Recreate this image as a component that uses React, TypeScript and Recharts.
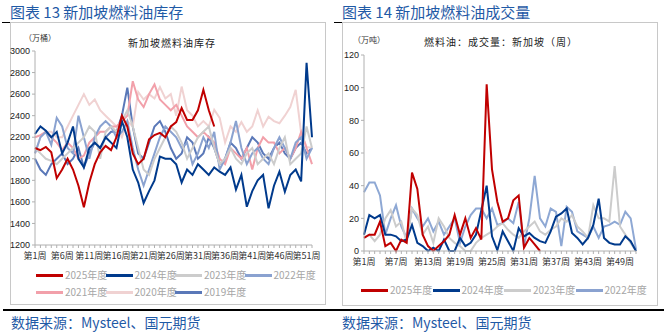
import React from "react";
import { LineChart, Line, XAxis, YAxis } from "recharts";

const weeks: string[] = Array.from({ length: 52 }, (_, i) => `第${i + 1}周`);

const inv2025 = [2100,2080,2110,2060,1820,1900,2000,1900,1750,1550,1780,1950,2060,2120,2080,2200,2400,2300,2050,1950,2000,2180,2220,2240,2200,2300,2340,2470,2360,2360,2450,2640,2450,2300];
const inv2024 = [2230,2300,2260,2200,2250,2050,2150,2300,2000,1920,2100,2150,2100,2200,2150,2100,2350,2200,1900,1780,1590,1700,1800,2020,2000,2000,1950,1780,1900,1850,1950,1900,1850,1920,1880,1850,1920,1715,1850,1555,1700,1800,1850,1540,1750,1880,1694,1850,1900,1790,2890,2200];
const inv2023 = [2100,2050,2000,1980,1950,2000,2050,2100,2150,2200,2300,2250,2000,2250,2300,2250,2350,2450,2300,2100,1900,1850,2000,2100,2200,2300,2250,2150,2000,2100,2200,2250,2300,2100,1950,2000,2100,2000,1950,2050,2100,1950,2000,2050,1950,2100,2200,1950,2000,2050,2300,2100];
const inv2022 = [2050,2200,2250,2130,2380,2300,2100,2050,2400,2200,2000,2200,2300,2350,2300,2200,2250,2350,2100,1900,1750,1900,2050,2200,2300,2250,2200,2100,2150,1950,2050,2200,2100,2250,1900,2000,2150,2350,2100,1950,2050,2100,2000,1950,2100,2200,2100,2000,2150,2200,2000,2100];
const inv2021 = [2200,2220,2250,2200,2150,2080,2150,2100,2000,2030,2150,2200,2250,2250,2300,2300,2350,2400,2720,2550,2480,2600,2690,2550,2500,2450,2500,2400,2300,2250,2200,2250,2200,2150,2000,1950,2100,2050,2000,2100,1900,2100,2200,2150,2150,2050,2100,2000,2100,2250,2100,1950];
const inv2020 = [2050,2200,2250,2250,2200,2200,2300,2400,2500,2600,2500,2550,2450,2400,2350,2300,2200,2350,2300,2620,2550,2600,2560,2665,2560,2600,2400,2670,2450,2400,2300,2350,2300,2455,2380,2150,2300,2250,2340,2250,2300,2450,2300,2390,2350,2330,2400,2480,2640,2240,2110,2100];
const inv2019 = [2000,1900,1850,1950,2000,2050,1950,2000,2100,1920,2050,2150,2100,2200,2250,2250,2400,2660,2300,2050,2000,2150,2300,2350,2250,2100,2000,2050,2200,2150,2000,2050,2200,2100,1950,2000,2150,2100,2000,2100,2200,2150,2050,2000,2100,2150,2050,2000,2100,2150,2050,2100];

const vol2025 = [8,10,10,18,3,5,0,7,5,48,38,10,3,0,3,6,10,22,10,20,8,14,7,102,50,30,18,20,31,34,2,8,4,0];
const vol2024 = [10,22,20,22,10,10,9,6,7,16,5,3,0,2,0,7,0,0,8,3,5,10,25,40,9,0.5,12,6,0,14,9,11,8,6,5,12,21,23,26,11,8,4,8,16,32,8,5,4,4,9,6,0];
const vol2023 = [8,10,6,10,20,25,15,18,5,26,22,10,15,5,20,15,8,5,3,0,0,5,8,10,12,15,17,13,10,8,12,15,18,12,10,13,15,20,18,22,15,12,8,28,20,20,18,52,15,10,5,0];
const vol2022 = [36,42,42,34,10,20,28,15,8,26,20,15,20,12,18,10,15,20,5,15,22,26,26,20,26,16,17,20,17,30,3,20,46,20,15,26,24,3,27,24,12,10,8,15,8,15,16,18,16,24,20,1];

const invSeries = [
  { name: "2019年度", data: inv2019, color: "#5a78b8" },
  { name: "2020年度", data: inv2020, color: "#f0d2d2" },
  { name: "2021年度", data: inv2021, color: "#f2a0aa" },
  { name: "2022年度", data: inv2022, color: "#8aa2d0" },
  { name: "2023年度", data: inv2023, color: "#cccccc" },
  { name: "2024年度", data: inv2024, color: "#003a8c" },
  { name: "2025年度", data: inv2025, color: "#c00000" },
];
const volSeries = [
  { name: "2022年度", data: vol2022, color: "#8ea8d4" },
  { name: "2023年度", data: vol2023, color: "#cccccc" },
  { name: "2024年度", data: vol2024, color: "#003a8c" },
  { name: "2025年度", data: vol2025, color: "#c00000" },
];

const invLegendRows = [
  ["2025年度", "2024年度", "2023年度", "2022年度"],
  ["2021年度", "2020年度", "2019年度"],
];
const volLegendRow = ["2025年度", "2024年度", "2023年度", "2022年度"];

const invTicks = [1200, 1400, 1600, 1800, 2000, 2200, 2400, 2600, 2800, 3000];
const volTicks = [0, 20, 40, 60, 80, 100, 120];

function buildRows(series: { name: string; data: number[] }[]) {
  return weeks.map((w, i) => {
    const row: Record<string, string | number | null> = { week: w };
    series.forEach((s) => {
      row[s.name] = i < s.data.length ? s.data[i] : null;
    });
    return row;
  });
}

const invRows = buildRows(invSeries);
const volRows = buildRows(volSeries);

const CJK = '"Noto Sans CJK SC", "Noto Sans", sans-serif';
const LAT = '"Liberation Sans", Arial, sans-serif';

function makeTick(every: number) {
  return (props: any) => {
    const { x, y, payload, index } = props;
    return (
      <g>
        <line x1={x} x2={x} y1={y - 8} y2={y - 5} stroke="#b0b0b0" strokeWidth={1} />
        {index % every === 0 ? (
          <text x={x} y={y + 6} textAnchor="middle" fontSize={9} fill="#333" fontFamily={CJK}>
            {payload.value}
          </text>
        ) : null}
      </g>
    );
  };
}

const colorOf = (name: string) =>
  (invSeries.find((s) => s.name === name) || volSeries.find((s) => s.name === name))!.color;

function LegendItem({ name, color, x, y }: { name: string; color: string; x: number; y: number }) {
  return (
    <div style={{ position: "absolute", left: x, top: y, display: "flex", alignItems: "center", height: 12 }}>
      <div style={{ width: 27, height: 3, background: color }} />
      <span style={{ marginLeft: 2, fontSize: 10, color: "#a6a6a6", fontFamily: CJK, lineHeight: "12px", whiteSpace: "nowrap" }}>{name}</span>
    </div>
  );
}

export default function App() {
  return (
    <div style={{ position: "fixed", left: 0, top: 0, width: 664, height: 333, background: "#fff", overflow: "hidden" }}>
      {/* Left panel */}
      <div style={{ position: "absolute", left: 10, top: 2, fontSize: 15, color: "#1f5aa6", fontFamily: CJK, lineHeight: "20px", whiteSpace: "nowrap" }}>
        图表 13 新加坡燃料油库存
      </div>
      <div style={{ position: "absolute", left: 2, top: 22, width: 8, height: 1, background: "#000" }} />
      <div style={{ position: "absolute", left: 10, top: 22, width: 316, height: 283, border: "1px solid #c8c8c8", boxSizing: "border-box", borderTopColor: "#c8c8c8" }} />
      <div style={{ position: "absolute", left: 3, top: 309, width: 329, height: 2, background: "#000" }} />
      <div style={{ position: "absolute", left: 11, top: 312, fontSize: 14, color: "#1f5aa6", fontFamily: CJK, lineHeight: "20px", whiteSpace: "nowrap" }}>
        数据来源：Mysteel、国元期货
      </div>
      <div style={{ position: "absolute", left: 24, top: 32, fontSize: 8, color: "#333", fontFamily: CJK, whiteSpace: "nowrap" }}>（万桶）</div>
      <div style={{ position: "absolute", left: 128, top: 35, fontSize: 10, color: "#222", fontFamily: CJK, whiteSpace: "nowrap", letterSpacing: 1 }}>新加坡燃料油库存</div>
      <div style={{ position: "absolute", left: 0, top: 0 }}>
        <LineChart width={332} height={300} data={invRows} margin={{ top: 51, right: 20, bottom: 35, left: 0 }}>
          <XAxis dataKey="week" interval={0} tickLine={false} axisLine={{ stroke: "#b0b0b0" }} tick={makeTick(5)} height={20} />
          <YAxis domain={[1200, 3000]} ticks={invTicks} width={35} tick={{ fontSize: 9, fill: "#222", fontFamily: LAT }} tickSize={3} axisLine={{ stroke: "#b0b0b0" }} tickLine={{ stroke: "#b0b0b0" }} />
          {invSeries.map((s) => (
            <Line key={s.name} dataKey={s.name} stroke={s.color} strokeWidth={2} dot={false} isAnimationActive={false} connectNulls={false} />
          ))}
        </LineChart>
      </div>
      {invLegendRows.map((row, r) =>
        row.map((n, c) => <LegendItem key={n} name={n} color={colorOf(n)} x={36 + c * 69.5} y={269 + r * 17} />)
      )}

      {/* Right panel */}
      <div style={{ position: "absolute", left: 342, top: 2, fontSize: 15, color: "#1f5aa6", fontFamily: CJK, lineHeight: "20px", whiteSpace: "nowrap" }}>
        图表 14 新加坡燃料油成交量
      </div>
      <div style={{ position: "absolute", left: 334, top: 22, width: 8, height: 1, background: "#000" }} />
      <div style={{ position: "absolute", left: 342, top: 22, width: 316, height: 284, border: "1px solid #c8c8c8", boxSizing: "border-box" }} />
      <div style={{ position: "absolute", left: 332, top: 309, width: 332, height: 2, background: "#000" }} />
      <div style={{ position: "absolute", left: 342, top: 312, fontSize: 14, color: "#1f5aa6", fontFamily: CJK, lineHeight: "20px", whiteSpace: "nowrap" }}>
        数据来源：Mysteel、国元期货
      </div>
      <div style={{ position: "absolute", left: 353, top: 34, fontSize: 8, color: "#333", fontFamily: CJK, whiteSpace: "nowrap" }}>（万吨）</div>
      <div style={{ position: "absolute", left: 424, top: 34, fontSize: 10, color: "#222", fontFamily: CJK, whiteSpace: "nowrap", letterSpacing: 1 }}>燃料油：成交量：新加坡（周）</div>
      <div style={{ position: "absolute", left: 332, top: 0 }}>
        <LineChart width={332} height={300} data={volRows} margin={{ top: 55, right: 28, bottom: 29, left: 0 }}>
          <XAxis dataKey="week" interval={0} tickLine={false} axisLine={{ stroke: "#b0b0b0" }} tick={makeTick(6)} height={20} />
          <YAxis domain={[0, 120]} ticks={volTicks} width={32} tick={{ fontSize: 9, fill: "#222", fontFamily: LAT }} tickSize={3} axisLine={{ stroke: "#b0b0b0" }} tickLine={{ stroke: "#b0b0b0" }} />
          {volSeries.map((s) => (
            <Line key={s.name} dataKey={s.name} stroke={s.color} strokeWidth={2} dot={false} isAnimationActive={false} connectNulls={false} />
          ))}
        </LineChart>
      </div>
      {volLegendRow.map((n, c) => (
        <LegendItem key={"v" + n} name={n} color={colorOf(n)} x={361 + c * 71.5} y={284} />
      ))}
    </div>
  );
}
